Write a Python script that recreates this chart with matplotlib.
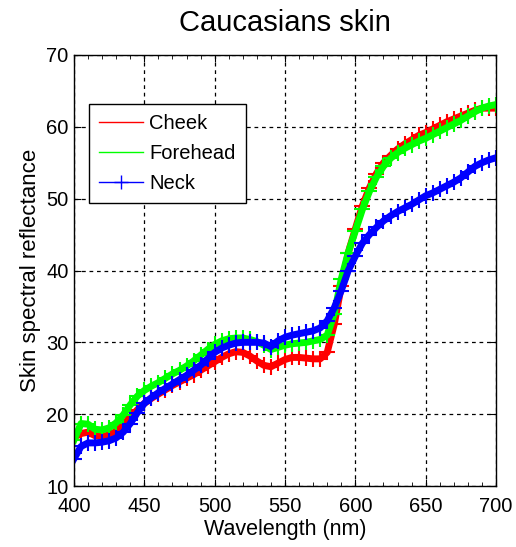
import numpy as np
import matplotlib
matplotlib.use('Agg')
import matplotlib.pyplot as plt
from matplotlib.lines import Line2D

plt.rcParams['font.family'] = ['Liberation Sans', 'DejaVu Sans']

# wavelength samples (nm), read every 5 nm
wavelength = np.arange(400, 701, 5)

cheek = [16.8, 17.3, 17.5, 17.0, 16.9, 17.1, 17.6, 18.5, 19.6, 20.6,
         21.5, 22.2, 22.8, 23.4, 24.0, 24.5, 25.0, 25.5, 26.1, 26.7,
         27.3, 27.9, 28.4, 28.7, 28.6, 28.1, 27.4, 26.8, 26.6, 27.1,
         27.6, 27.9, 27.9, 27.8, 27.7, 27.7, 28.6, 32.5, 37.8, 42.5,
         45.8, 49.0, 51.5, 53.5, 55.0, 56.0, 56.9, 57.6, 58.2, 58.8,
         59.2, 59.7, 60.2, 60.7, 61.1, 61.5, 61.9, 62.3, 62.6, 62.6,
         62.6]

forehead = [16.4, 18.7, 18.6, 17.9, 17.8, 18.1, 18.8, 19.9, 21.3, 22.5,
            23.3, 23.9, 24.4, 25.0, 25.6, 26.1, 26.7, 27.4, 28.2, 29.0,
            29.7, 30.2, 30.5, 30.6, 30.6, 30.4, 30.1, 29.6, 29.0, 29.3,
            29.6, 29.8, 29.9, 30.0, 30.2, 30.4, 31.0, 34.0, 38.8, 42.5,
            45.5, 48.5, 51.0, 53.0, 54.5, 55.6, 56.4, 57.0, 57.5, 58.0,
            58.4, 58.9, 59.4, 59.9, 60.4, 60.9, 61.5, 62.1, 62.6, 62.9,
            63.1]

neck = [13.8, 15.5, 16.0, 16.0, 16.1, 16.3, 16.7, 17.5, 18.7, 20.2,
        21.5, 22.3, 23.0, 23.6, 24.2, 24.8, 25.4, 26.1, 26.8, 27.7,
        28.6, 29.2, 29.6, 29.9, 30.0, 30.0, 30.0, 29.9, 29.4, 30.2,
        30.7, 31.0, 31.2, 31.4, 31.6, 32.0, 33.0, 34.8, 37.2, 40.0,
        42.0, 43.8, 45.0, 46.0, 46.9, 47.6, 48.2, 48.7, 49.2, 49.8,
        50.4, 50.8, 51.3, 51.8, 52.3, 52.9, 53.7, 54.5, 55.0, 55.4,
        55.7]

labels = ['Cheek', 'Forehead', 'Neck']
colors = ['#ff0000', '#00ff00', '#0000ff']

fig = plt.figure(figsize=(5.16, 5.47), dpi=100)
ax = fig.add_axes([74/516, 1-486/547, 422/516, 431/547])

# thick line + '+' markers to give the banded look
for y, c in zip([cheek, forehead, neck], colors):
    ax.plot(wavelength, y, color=c, lw=5, marker='+', ms=11, mew=1.5)

ax.set_xlim(400, 700)
ax.set_ylim(10, 70)
ax.set_xticks(np.arange(400, 701, 50))
ax.set_xticks(np.arange(400, 701, 10), minor=True)
ax.set_yticks(np.arange(10, 71, 10))
ax.tick_params(which='both', direction='in', top=True, right=True, labelsize=14.5, color='black')
ax.tick_params(which='major', length=5)
ax.tick_params(axis='x', which='major', pad=8)
ax.tick_params(axis='y', which='major', pad=4)
ax.tick_params(which='minor', length=3)
ax.grid(True, which='major', color='black', ls=(0, (3, 3)), lw=0.9)
for s in ax.spines.values():
    s.set_color('black')
    s.set_linewidth(1)

ax.set_title('Caucasians skin', fontsize=21, pad=17)
ax.set_xlabel('Wavelength (nm)', fontsize=15.5, labelpad=2)
ax.set_ylabel('Skin spectral reflectance', fontsize=16, labelpad=4)

handles = [Line2D([], [], color=colors[0], lw=1),
           Line2D([], [], color=colors[1], lw=1),
           Line2D([], [], color=colors[2], lw=1, marker='+', ms=10)]
leg = ax.legend(handles, labels, loc='upper left', bbox_to_anchor=(0.0355, 0.886),
                borderaxespad=0, fontsize=14.5, handlelength=2.2, handletextpad=0.3,
                labelspacing=0.55, fancybox=False, framealpha=1, borderpad=0.5)
leg.get_frame().set_edgecolor('black')
leg.get_frame().set_linewidth(1)

fig.savefig('out.png', dpi=100)
